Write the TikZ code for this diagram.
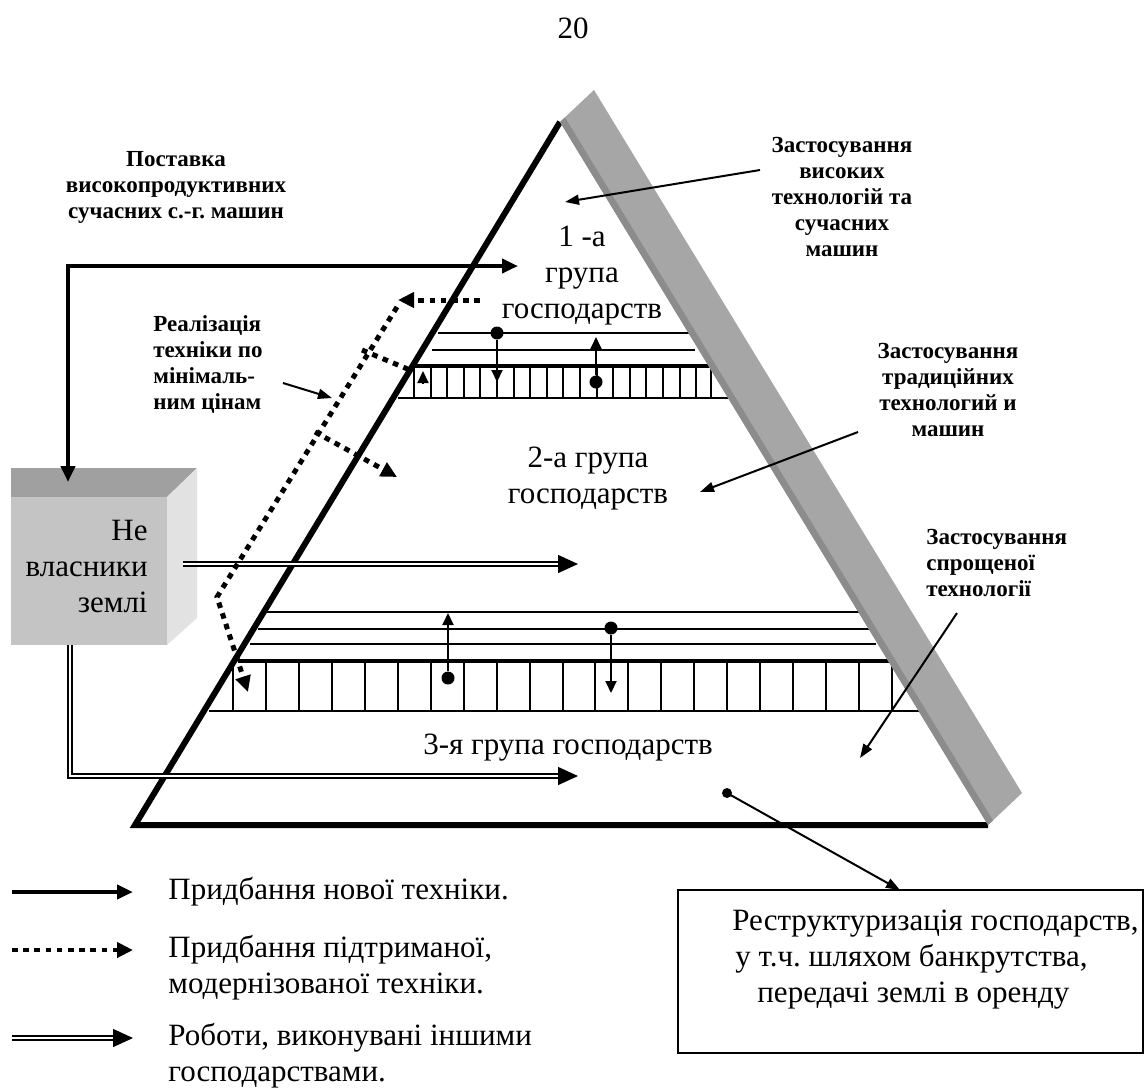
\documentclass[tikz,border=0pt]{standalone}
\usepackage{fontspec}
\setmainfont{Liberation Serif}
\usetikzlibrary{arrows.meta,calc}
\definecolor{bargray}{RGB}{166,166,166}
\definecolor{bardark}{RGB}{140,140,140}
\definecolor{boxtop}{RGB}{160,160,160}
\definecolor{boxfront}{RGB}{196,196,196}
\definecolor{boxside}{RGB}{226,226,226}
\newcommand{\bandticks}[5]{\foreach \k in {0,...,#2} \draw[thinln] ({#1+#3*\k},#4) -- ({#1+#3*\k},#5);}
\tikzset{
  plaintxt/.style={font=\fontsize{15.5}{18}\selectfont, inner sep=0pt},
  boldtxt/.style={font=\bfseries\fontsize{11.5}{13}\selectfont, inner sep=0pt},
  thinln/.style={line width=1pt},
  thickln/.style={line width=2pt},
  newarr/.style={line width=2.2pt, -{Triangle[length=8pt,width=7pt]}},
  usedln/.style={line width=2.5pt, dash pattern=on 2.8pt off 2.8pt},
  usedarr/.style={usedln, -{Triangle[length=8pt,width=7.5pt]}},
  dblln/.style={double, double distance=1.4pt, line width=0.7pt},
  dbltip/.style={line width=0.7pt, -{Triangle[length=10pt,width=9pt]}},
  ptr/.style={line width=1pt, -{Triangle[length=7pt,width=5pt]}},
  bandarr/.style={line width=1pt, -{Triangle[length=6pt,width=5.5pt]}},
  dotnode/.style={circle, fill, inner sep=0pt, minimum size=6.5pt},
}
\begin{document}
\frenchspacing
\begin{tikzpicture}[x=0.5pt,y=-0.5pt]
	\useasboundingbox (0,0) rectangle (1145,1088);
	
	\node[plaintxt] (page) at (573,28) {20};
	
	% upper band
	\draw[thinln] (438,333) -- (695,333);
	\draw[thinln] (432,350) -- (695,350);
	\draw[thickln] (413,366) -- (712,366);
	\draw[thinln] (398,398) -- (728,398);
	\bandticks{414}{17}{16.6}{366}{398}
	\draw[thinln] (711,366) -- (711,398);
	
	% lower band
	\draw[thinln] (267,612) -- (859,612);
	\draw[thinln] (258,629) -- (876,629);
	\draw[thinln] (250,644) -- (876,644);
	\draw[thickln] (238,661) -- (892,661);
	\draw[thinln] (209,711) -- (924,711);
	\bandticks{233}{20}{32.95}{661}{711}
	
	% pyramid
	\coordinate (apex) at (560,122);
	\coordinate (bl) at (135,825);
	\coordinate (br) at (988,825);
	\draw[line width=3pt] (apex) -- (bl) -- (br);
	\fill[bargray] (apex) -- ++(34,-32) -- ($(br)+(34,-32)$) -- (br) -- cycle;
	\fill[bardark] (apex) -- ++(5,-4.5) -- ($(br)+(5,-4.5)$) -- (br) -- cycle;
	
	% arrows in the bands
	\node[dotnode] (a1dot) at (497,333) {};
	\coordinate (a1tip) at (497,382);
	\draw[bandarr] (a1dot) -- (a1tip);
	\node[dotnode] (a2dot) at (596,382) {};
	\coordinate (a2tip) at (596,337);
	\draw[bandarr] (a2dot) -- (a2tip);
	\node[dotnode] (a3dot) at (448,678) {};
	\coordinate (a3tip) at (448,613);
	\draw[bandarr] (a3dot) -- (a3tip);
	\node[dotnode] (a4dot) at (611,628) {};
	\coordinate (a4tip) at (611,693);
	\draw[bandarr] (a4dot) -- (a4tip);
	\coordinate (a5s) at (423,384);
	\coordinate (a5tip) at (423,371);
	\draw[bandarr] (a5s) -- (a5tip);
	
	% box
	\fill[boxtop] (11,468) -- (197,468) -- (167,497) -- (11,497) -- cycle;
	\fill[boxside] (167,497) -- (197,468) -- (197,618) -- (167,645) -- cycle;
	\node[fill=boxfront, minimum width=78pt, minimum height=74pt, inner sep=0pt] (owners) at (89,571) {};
	\node[plaintxt, align=right, anchor=east] (ownerstxt) at (148,566) {Не\\власники\\землі};
	
	% new machines
	\coordinate (sup1) at (68,482);
	\coordinate (sup2) at (68,266);
	\coordinate (sup3) at (518,266);
	\draw[line width=2.2pt, {Triangle[length=8pt,width=7pt]}-{Triangle[length=8pt,width=7pt]}] (sup1) -- (sup2) -- (sup3);
	
	% works by others
	\coordinate (w1s) at (183,564);
	\coordinate (w1m) at (558,564);
	\coordinate (w1e) at (578,564);
	\draw[dblln] (w1s) -- (w1m);
	\draw[dbltip] (w1m) -- (w1e);
	\coordinate (w2s) at (70,645);
	\coordinate (w2c) at (70,776);
	\coordinate (w2m) at (558,776);
	\coordinate (w2e) at (578,776);
	\draw[dblln] (w2s) -- (w2c) -- (w2m);
	\draw[dbltip] (w2m) -- (w2e);
	
	% used machines
	\coordinate (u1) at (480,300);
	\coordinate (u2) at (398,300);
	\draw[usedarr] (u1) -- (u2);
	\coordinate (d1) at (397,307);
	\coordinate (d2) at (217,597);
	\coordinate (d3) at (248,692);
	\draw[usedarr] (d1) -- (d2) -- (d3);
	\coordinate (b1s) at (362,350);
	\coordinate (b1e) at (410,370);
	\draw[usedln] (b1s) -- (b1e);
	\coordinate (b2s) at (315,432);
	\coordinate (b2e) at (397,477);
	\draw[usedarr] (b2s) -- (b2e);
	
	% texts
	\node[plaintxt, align=center] (g1) at (582,276) {1 -а\\група\\господарств};
	\node[plaintxt, align=center] (g2) at (588,479) {2-а група\\господарств};
	\node[plaintxt] (g3) at (568,748) {3-я група господарств};
	
	\node[boldtxt, align=center] (supply) at (176,187) {Поставка\\високопродуктивних\\сучасних с.-г. машин};
	\node[boldtxt, align=center] (hightech) at (842,197) {Застосування\\високих\\технологій та\\сучасних\\машин};
	\node[boldtxt, align=left, anchor=west] (resale) at (153,365) {Реалізація\\техніки по\\мінімаль-\\ним цінам};
	\node[boldtxt, align=center] (tradtech) at (948,390) {Застосування\\традиційних\\технологий и\\машин};
	\node[boldtxt, align=left, anchor=west] (simptech) at (926,563) {Застосування\\спрощеної\\технології};
	
	% pointers
	\coordinate (p1s) at (760,170);
	\coordinate (p1e) at (565,202);
	\draw[ptr] (p1s) -- (p1e);
	\coordinate (p2s) at (858,432);
	\coordinate (p2e) at (700,492);
	\draw[ptr] (p2s) -- (p2e);
	\coordinate (p3s) at (957,613);
	\coordinate (p3e) at (860,758);
	\draw[ptr] (p3s) -- (p3e);
	\coordinate (p4s) at (283,383);
	\coordinate (p4e) at (332,398);
	\draw[ptr] (p4s) -- (p4e);
	
	% restructuring
	\node[draw, line width=0.75pt, minimum width=232.5pt, minimum height=81.5pt, inner sep=0pt] (restr) at (910.5,971.5) {};
	\node[plaintxt, align=left, anchor=west] (restrtxt) at (732,960) {Реструктуризація господарств,\\\hspace*{1.5pt}у т.ч. шляхом банкрутства,\\\hspace*{12.5pt}передачі землі в оренду};
	\node[dotnode, minimum size=5pt] (restrdot) at (727,793) {};
	\coordinate (restrtip) at (900,890);
	\draw[ptr] (restrdot.center) -- (restrtip);
	
	% legend
	\coordinate (l1s) at (12,892);
	\coordinate (l1e) at (133,892);
	\draw[newarr] (l1s) -- (l1e);
	\node[plaintxt, anchor=west] (l1txt) at (168,892) {Придбання нової техніки.};
	\coordinate (l2s) at (12,950);
	\coordinate (l2e) at (133,950);
	\draw[usedarr, line width=2pt] (l2s) -- (l2e);
	\node[plaintxt, anchor=west, align=left] (l2txt) at (168,968) {Придбання підтриманої,\\модернізованої техніки.};
	\coordinate (l3s) at (12,1038);
	\coordinate (l3m) at (113,1038);
	\coordinate (l3e) at (133,1038);
	\draw[dblln] (l3s) -- (l3m);
	\draw[dbltip] (l3m) -- (l3e);
	\node[plaintxt, anchor=west, align=left] (l3txt) at (168,1056) {Роботи, виконувані іншими\\господарствами.};
\end{tikzpicture}
\end{document}
